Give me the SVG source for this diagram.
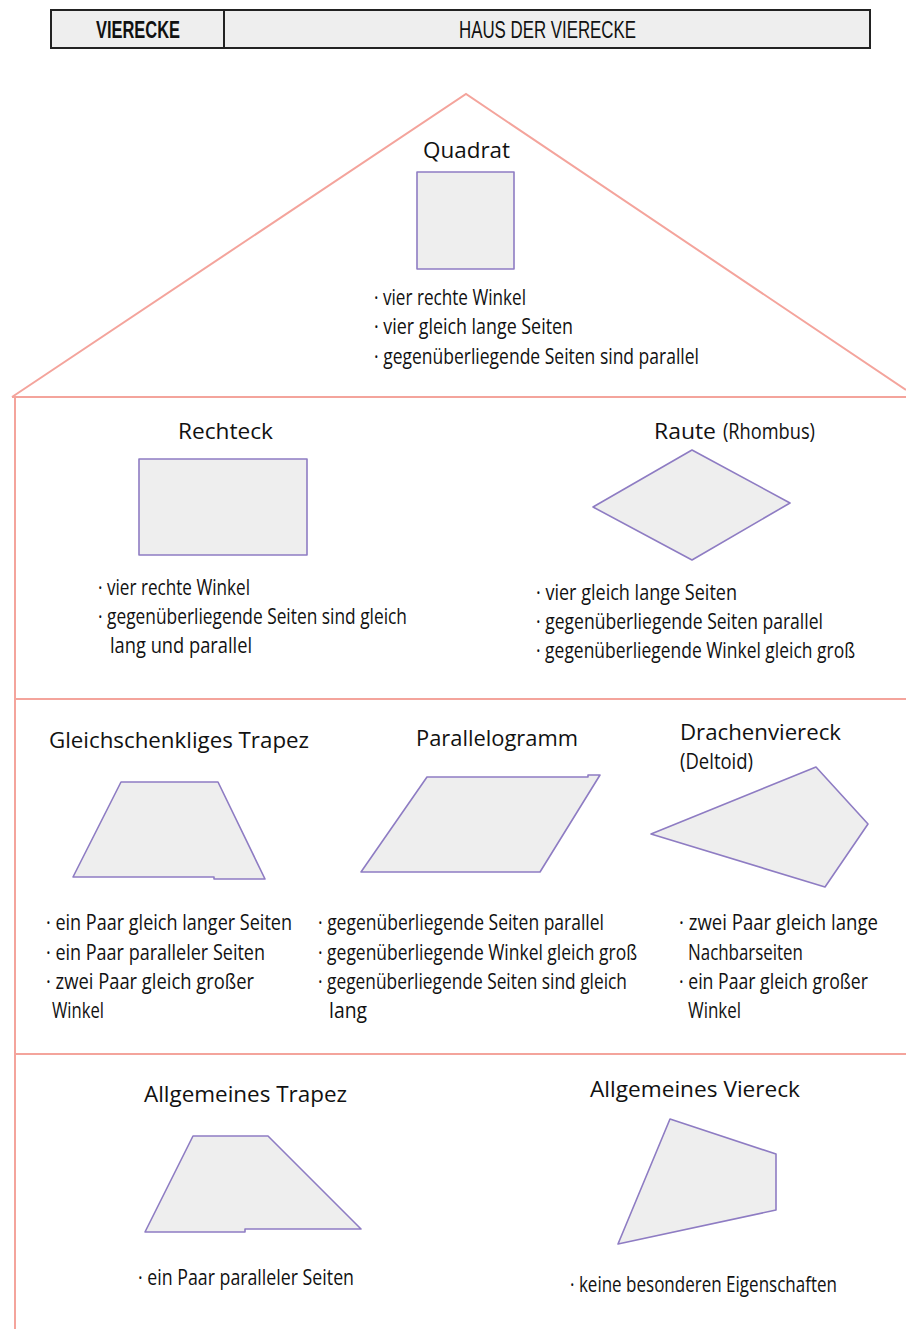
<svg xmlns="http://www.w3.org/2000/svg" width="906" height="1329" viewBox="0 0 906 1329">
<style>
.hdr{fill:#eeeeee;stroke:#222;stroke-width:2}
.house{fill:none;stroke:#f4a49c;stroke-width:2}
.shape{fill:#eeeeee;stroke:#8e7cc3;stroke-width:1.6;stroke-linejoin:round}
.t{font-family:"Open Sans","Liberation Sans",sans-serif;font-size:21px;fill:#111}
.b{font-family:"Open Sans","Liberation Sans",sans-serif;font-size:21px;fill:#111}
.h{font-family:"Liberation Sans",sans-serif;font-size:24px;fill:#111}
</style>
<rect width="906" height="1329" fill="#ffffff"/>
<g id="header">
<rect class="hdr" x="51" y="10" width="819" height="38"/>
<line x1="224" y1="10" x2="224" y2="48" stroke="#222" stroke-width="2"/>
<text class="h" x="96" y="38" font-weight="bold" textLength="84" lengthAdjust="spacingAndGlyphs">VIERECKE</text>
<text class="h" x="459" y="38" textLength="177" lengthAdjust="spacingAndGlyphs">HAUS DER VIERECKE</text>
</g>
<g id="house">
<polyline class="house" points="12,397 466,94 906,390"/>
<line class="house" x1="12" y1="397" x2="906" y2="397"/>
<line class="house" x1="15" y1="397" x2="15" y2="1329"/>
<line class="house" x1="15" y1="699" x2="906" y2="699"/>
<line class="house" x1="15" y1="1054" x2="906" y2="1054"/>
</g>
<g id="quadrat">
<text class="t" x="423" y="158" textLength="87" lengthAdjust="spacingAndGlyphs">Quadrat</text>
<rect class="shape" x="417" y="172" width="97" height="97"/>
<text class="b" x="374" y="305" textLength="152" lengthAdjust="spacingAndGlyphs">· vier rechte Winkel</text>
<text class="b" x="374" y="334" textLength="199" lengthAdjust="spacingAndGlyphs">· vier gleich lange Seiten</text>
<text class="b" x="374" y="364" textLength="325" lengthAdjust="spacingAndGlyphs">· gegenüberliegende Seiten sind parallel</text>
</g>
<g id="rechteck">
<text class="t" x="178" y="439" textLength="95" lengthAdjust="spacingAndGlyphs">Rechteck</text>
<rect class="shape" x="139" y="459" width="168" height="96"/>
<text class="b" x="98" y="595" textLength="152" lengthAdjust="spacingAndGlyphs">· vier rechte Winkel</text>
<text class="b" x="98" y="624" textLength="309" lengthAdjust="spacingAndGlyphs">· gegenüberliegende Seiten sind gleich</text>
<text class="b" x="110" y="653" textLength="142" lengthAdjust="spacingAndGlyphs">lang und parallel</text>
</g>
<g id="raute">
<text class="t" x="654" y="439" textLength="62" lengthAdjust="spacingAndGlyphs">Raute</text>
<text class="t" x="723" y="439" font-size="15" textLength="92" lengthAdjust="spacingAndGlyphs">(Rhombus)</text>
<polygon class="shape" points="692,450 790,503 692,560 593,507"/>
<text class="b" x="536" y="600" textLength="201" lengthAdjust="spacingAndGlyphs">· vier gleich lange Seiten</text>
<text class="b" x="536" y="629" textLength="287" lengthAdjust="spacingAndGlyphs">· gegenüberliegende Seiten parallel</text>
<text class="b" x="536" y="658" textLength="319" lengthAdjust="spacingAndGlyphs">· gegenüberliegende Winkel gleich groß</text>
</g>
<g id="gleichschenkliges-trapez">
<text class="t" x="49" y="748" textLength="260" lengthAdjust="spacingAndGlyphs">Gleichschenkliges Trapez</text>
<polygon class="shape" points="121,782 218,782 265,879 214,879 214,877 73,877"/>
<text class="b" x="46" y="930" textLength="246" lengthAdjust="spacingAndGlyphs">· ein Paar gleich langer Seiten</text>
<text class="b" x="46" y="960" textLength="219" lengthAdjust="spacingAndGlyphs">· ein Paar paralleler Seiten</text>
<text class="b" x="46" y="989" textLength="208" lengthAdjust="spacingAndGlyphs">· zwei Paar gleich großer</text>
<text class="b" x="52" y="1018" textLength="52" lengthAdjust="spacingAndGlyphs">Winkel</text>
</g>
<g id="parallelogramm">
<text class="t" x="416" y="746" textLength="162" lengthAdjust="spacingAndGlyphs">Parallelogramm</text>
<polygon class="shape" points="427,777 588,777 588,775 600,775 540,872 361,872"/>
<text class="b" x="318" y="930" textLength="286" lengthAdjust="spacingAndGlyphs">· gegenüberliegende Seiten parallel</text>
<text class="b" x="318" y="960" textLength="319" lengthAdjust="spacingAndGlyphs">· gegenüberliegende Winkel gleich groß</text>
<text class="b" x="318" y="989" textLength="309" lengthAdjust="spacingAndGlyphs">· gegenüberliegende Seiten sind gleich</text>
<text class="b" x="329" y="1018" textLength="38" lengthAdjust="spacingAndGlyphs">lang</text>
</g>
<g id="drachenviereck">
<text class="t" x="680" y="740" textLength="161" lengthAdjust="spacingAndGlyphs">Drachenviereck</text>
<text class="t" x="680" y="769" font-size="16" textLength="73" lengthAdjust="spacingAndGlyphs">(Deltoid)</text>
<polygon class="shape" points="816,767 868,824 825,887 651,834"/>
<text class="b" x="679" y="930" textLength="199" lengthAdjust="spacingAndGlyphs">· zwei Paar gleich lange</text>
<text class="b" x="688" y="960" textLength="115" lengthAdjust="spacingAndGlyphs">Nachbarseiten</text>
<text class="b" x="679" y="989" textLength="189" lengthAdjust="spacingAndGlyphs">· ein Paar gleich großer</text>
<text class="b" x="688" y="1018" textLength="53" lengthAdjust="spacingAndGlyphs">Winkel</text>
</g>
<g id="allgemeines-trapez">
<text class="t" x="144" y="1102" textLength="203" lengthAdjust="spacingAndGlyphs">Allgemeines Trapez</text>
<polygon class="shape" points="193,1136 268,1136 361,1229 245,1229 245,1232 145,1232"/>
<text class="b" x="138" y="1285" textLength="216" lengthAdjust="spacingAndGlyphs">· ein Paar paralleler Seiten</text>
</g>
<g id="allgemeines-viereck">
<text class="t" x="590" y="1097" textLength="210" lengthAdjust="spacingAndGlyphs">Allgemeines Viereck</text>
<polygon class="shape" points="670,1119 776,1154 776,1210 618,1244"/>
<text class="b" x="570" y="1292" textLength="267" lengthAdjust="spacingAndGlyphs">· keine besonderen Eigenschaften</text>
</g>
</svg>
